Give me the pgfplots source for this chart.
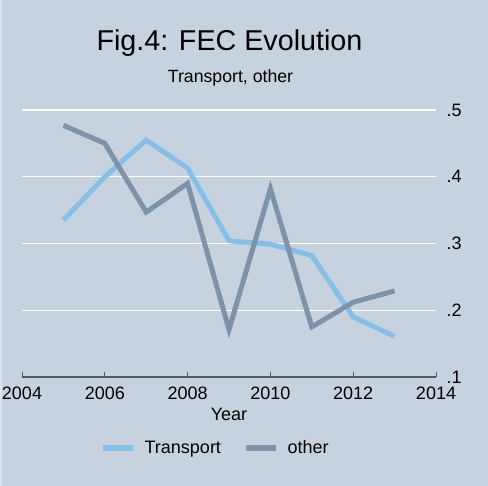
\documentclass[border=0pt]{standalone}
\usepackage{pgfplots}
\pgfplotsset{compat=1.18}
\usepackage{fontspec}
\setmainfont{Liberation Sans}
\definecolor{bgc}{HTML}{C6D3DF}
\definecolor{trc}{HTML}{86BEE8}
\definecolor{otc}{HTML}{7F93A8}
\definecolor{axc}{HTML}{555A60}
\begin{document}
\begin{tikzpicture}[x=1pt,y=1pt]
  \useasboundingbox (0,0) rectangle (488,486);
  \fill[bgc] (0,0) rectangle (488,486);
  \draw[color=white!40!bgc, line width=1.5pt] (0.75,0) -- (0.75,486);
  \node[anchor=base, font=\fontsize{28.7}{32}\selectfont] at (229.5,435) {Fig.4: FEC Evolution};
  \node[anchor=base, font=\fontsize{17.7}{20}\selectfont] at (230.5,403.3) {Transport, other};
  \begin{axis}[
    at={(22pt,109pt)}, anchor=south west,
    scale only axis, width=414pt, height=267pt,
    xmin=2004, xmax=2014, ymin=0.1, ymax=0.5,
    axis x line*=bottom, axis y line*=right,
    x axis line style={draw=axc, line width=1.3pt, -},
    y axis line style={draw=none},
    xtick={2004,2006,...,2014},
    ytick={0.1,0.2,0.3,0.4,0.5},
    yticklabels={.1,.2,.3,.4,.5},
    xtick style={draw=axc, line width=1pt},
    ytick style={draw=none},
    x tick label style={/pgf/number format/1000 sep={}},
    /pgf/number format/assume math mode=true,
    tick align=inside,
    major tick length=5pt,
    ymajorgrids, grid style={white, line width=1.2pt},
    ticklabel style={font=\fontsize{18}{21}\selectfont, text=black},
    yticklabel style={anchor=west, xshift=7pt},
    xticklabel style={yshift=-6pt},
    xlabel={Year},
    xlabel style={font=\fontsize{18}{21}\selectfont, yshift=-2pt},
    legend columns=2,
    legend style={at={(0.467,-0.266)}, anchor=center, draw=none, fill=none,
      font=\fontsize{18}{21}\selectfont,
      /tikz/every even column/.append style={column sep=20pt},
      /tikz/every odd column/.append style={column sep=7pt}},
    legend image code/.code={\draw[#1, line width=5.5pt] (0pt,0pt) -- (30pt,0pt);},
  ]
  \addplot[trc, line width=5pt] coordinates {
    (2005,0.335) (2006,0.400) (2007,0.455) (2008,0.413) (2009,0.304)
    (2010,0.299) (2011,0.282) (2012,0.190) (2013,0.161)
  };
  \addlegendentry{Transport}
  \addplot[otc, line width=5pt] coordinates {
    (2005,0.477) (2006,0.450) (2007,0.347) (2008,0.390) (2009,0.171)
    (2010,0.382) (2011,0.175) (2012,0.212) (2013,0.229)
  };
  \addlegendentry{other}
  \end{axis}
\end{tikzpicture}
\end{document}
